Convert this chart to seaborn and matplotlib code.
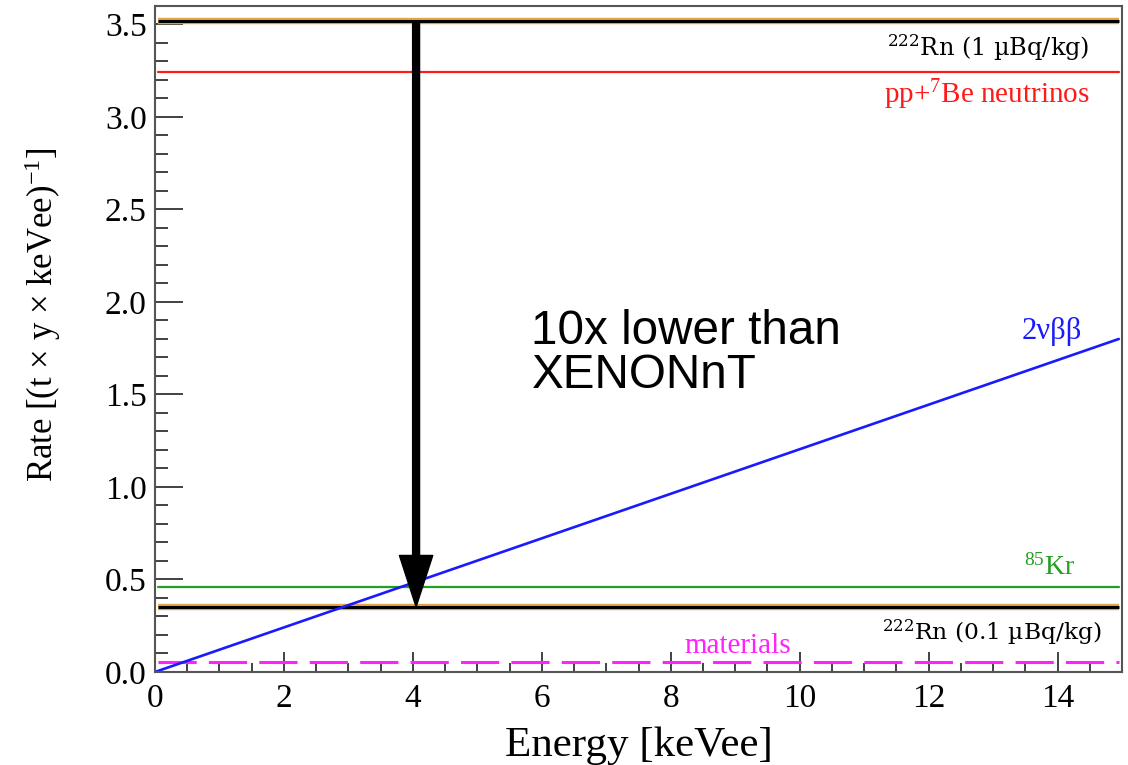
import matplotlib
matplotlib.use("Agg")
import matplotlib.pyplot as plt
import seaborn as sns
import numpy as np
import pandas as pd

# ---- data ----
energy_span = [0.05, 14.95]         # keVee, extent of the flat background lines
rn222_high = 3.52                   # 222Rn (1 uBq/kg)
pp7be = 3.245                       # pp + 7Be neutrinos
kr85 = 0.46                         # 85Kr
rn222_low = 0.352                   # 222Rn (0.1 uBq/kg)
materials = 0.055                   # materials
bb2_energy = [0.0, 14.95]           # 2 neutrino double beta
bb2_rate = [0.0, 1.80]
arrow_energy = 4.05

x_ticks = [0, 2, 4, 6, 8, 10, 12, 14]
y_ticks = [0.0, 0.5, 1.0, 1.5, 2.0, 2.5, 3.0, 3.5]

sns.set_theme(style="white")
plt.rcParams["font.family"] = ["Liberation Serif", "DejaVu Serif"]
plt.rcParams["mathtext.default"] = "regular"
plt.rcParams["text.color"] = "black"
plt.rcParams["axes.labelcolor"] = "black"

fig = plt.figure(figsize=(11.28, 7.65), dpi=100)
ax = fig.add_axes([0.1374, 0.1216, 0.8573, 0.8706])

def flat(val):
    return pd.DataFrame({"Energy": energy_span, "Rate": [val, val]})

orange = "#e3a548"
# Rn lines: black core with orange outline
for v in (rn222_high, rn222_low):
    d = flat(v)
    sns.lineplot(data=d, x="Energy", y="Rate", ax=ax, color=orange, lw=4.6, solid_capstyle="butt")
    sns.lineplot(data=d, x="Energy", y="Rate", ax=ax, color="black", lw=2.2, solid_capstyle="butt")

sns.lineplot(data=flat(pp7be), x="Energy", y="Rate", ax=ax, color="#ff1a1a", lw=1.6)
sns.lineplot(data=flat(kr85), x="Energy", y="Rate", ax=ax, color="#22a022", lw=1.6)
sns.lineplot(data=flat(materials), x="Energy", y="Rate", ax=ax, color="#ff22ff", lw=2.2,
             dashes=False).lines[-1].set_dashes([12.5, 4])
sns.lineplot(x=bb2_energy, y=bb2_rate, ax=ax, color="#1a1aff", lw=1.9)

# arrow
ax.annotate("", xy=(arrow_energy, rn222_low), xytext=(arrow_energy, rn222_high),
            arrowprops=dict(arrowstyle="simple,head_length=3.7,head_width=2.4,tail_width=0.5",
                            color="black", shrinkA=0, shrinkB=0, mutation_scale=10))

# labels on lines
rn_font = ["DejaVu Serif"]
ax.text(14.5, 3.33, r"$^{222}$Rn (1 µBq/kg)", ha="right", va="baseline", fontsize=17.3,
        color="black", family=rn_font)
ax.text(14.5, 3.075, r"pp+$^{7}$Be neutrinos", ha="right", va="baseline", fontsize=21, color="#ff1a1a")
ax.text(14.38, 1.80, r"2νββ", ha="right", va="baseline", fontsize=22, color="#1a1aff")
ax.text(14.28, 0.524, r"$^{85}$Kr", ha="right", va="baseline", fontsize=20, color="#22a022")
ax.text(14.69, 0.173, r"$^{222}$Rn (0.1 µBq/kg)", ha="right", va="baseline", fontsize=16.8,
        color="black", family=rn_font)
ax.text(9.04, 0.10, "materials", ha="center", va="baseline", fontsize=21, color="#ff22ff")

ax.text(5.84, 1.535, "10x lower than\nXENONnT", ha="left", va="baseline", fontsize=34.3,
        family=["Liberation Sans", "DejaVu Sans"], color="black", linespacing=0.98)

ax.set_xlim(0, 15)
ax.set_ylim(0, 3.6)
ax.set_xticks(x_ticks)
ax.set_yticks(y_ticks)
ax.set_xticklabels([str(t) for t in x_ticks])
ax.set_yticklabels([f"{t:.1f}" for t in y_ticks])
ax.set_xticks(np.arange(0, 15.01, 0.5), minor=True)
ax.set_yticks(np.arange(0, 3.61, 0.1), minor=True)

ax.tick_params(axis="both", which="both", direction="in", colors="#333333", labelcolor="black",
               width=1.3, labelsize=24, bottom=True, left=True, top=False, right=False)
ax.tick_params(axis="y", which="major", length=20, pad=6)
ax.tick_params(axis="y", which="minor", length=9.5)
ax.tick_params(axis="x", which="major", length=14.5, pad=8)
ax.tick_params(axis="x", which="minor", length=6.5)

for s in ax.spines.values():
    s.set_color("#555555")
    s.set_linewidth(1.5)

ax.set_xlabel("Energy [keVee]", fontsize=31, labelpad=9)
ax.set_ylabel(r"Rate [(t $\times$ y $\times$ keVee)$^{-1}$]", fontsize=25)
ax.yaxis.set_label_coords(-0.095, 0.537)

fig.savefig("out.png", dpi=100)
